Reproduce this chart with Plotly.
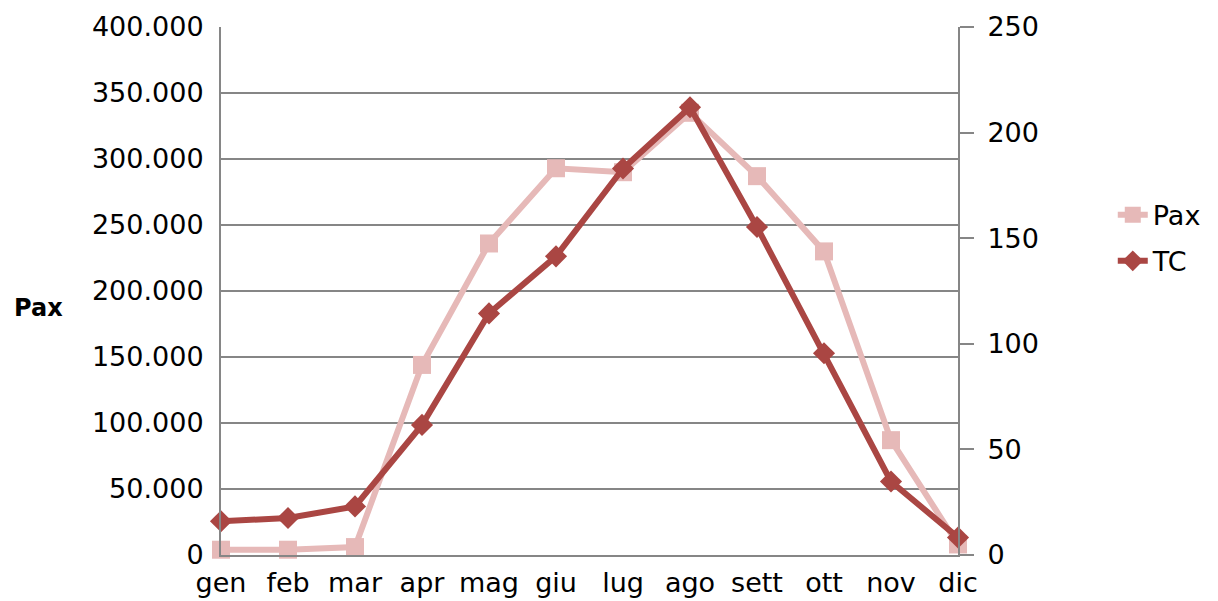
import plotly.graph_objects as go

months = ["gen", "feb", "mar", "apr", "mag", "giu", "lug", "ago", "sett", "ott", "nov", "dic"]
pax = [4000, 4000, 6000, 144000, 236000, 293000, 290000, 335000, 287000, 230000, 87000, 8000]
tc = [16, 17.5, 23, 61.6, 114.4, 141.4, 183, 212, 155.3, 95.5, 34.8, 8.3]

FONT = "DejaVu Sans"
GRID = "#868686"

fig = go.Figure()
fig.add_trace(go.Scatter(
    x=months, y=pax, name="Pax", mode="lines+markers", legendgroup="a",
    line=dict(color="#E6B9B8", width=6),
    marker=dict(symbol="square", size=18, color="#E6B9B8"),
    cliponaxis=False,
))
fig.add_trace(go.Scatter(
    x=months, y=tc, name="TC", mode="lines+markers", yaxis="y2", legendgroup="b",
    line=dict(color="#AA4643", width=6),
    marker=dict(symbol="diamond", size=17, color="#AA4643"),
    cliponaxis=False,
))

# the page body adds 8px before the figure, so it is 8px smaller each way
fig.update_layout(
    width=1210, height=593,
    margin=dict(l=213, r=260, t=19, b=46),
    plot_bgcolor="white", paper_bgcolor="white",
    separators=",.",
    font=dict(family=FONT, size=27, color="black"),
    showlegend=True,
    legend=dict(x=1.21, y=0.6, xanchor="left", yanchor="middle",
                font=dict(size=27), tracegroupgap=8, traceorder="grouped"),
    xaxis=dict(
        type="category", range=[0, 11], showgrid=False, automargin=False,
        showline=True, linecolor=GRID, linewidth=2,
        ticks="", ticklabelstandoff=3,
    ),
    yaxis=dict(
        range=[0, 400000], dtick=50000, tickformat=",d", automargin=False,
        showgrid=True, gridcolor=GRID, gridwidth=2,
        showline=True, linecolor=GRID, linewidth=2,
        ticks="", ticklabelstandoff=10, zeroline=False,
    ),
    yaxis2=dict(
        overlaying="y", side="right", range=[0, 250], dtick=50, automargin=False,
        showgrid=False, showline=True, linecolor=GRID, linewidth=2,
        ticks="outside", ticklen=14, tickwidth=2, tickcolor=GRID,
        ticklabelstandoff=8, zeroline=False,
    ),
)
fig.add_annotation(
    text="<b>Pax</b>", x=-0.248, y=0.467, xref="paper", yref="paper",
    xanchor="center", yanchor="middle",
    showarrow=False, font=dict(size=24),
)

fig.write_html("out.html")
